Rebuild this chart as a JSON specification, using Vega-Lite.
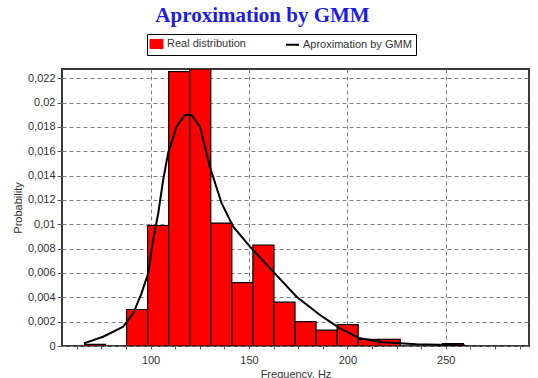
{
  "$schema": "https://vega.github.io/schema/vega-lite/v6.json",
  "width": 467,
  "height": 277,
  "autosize": "none",
  "padding": {"left": 62, "top": 69, "right": 9, "bottom": 32},
  "background": "white",
  "title": {
    "text": "Aproximation by GMM",
    "font": "Liberation Serif",
    "fontSize": 21,
    "fontWeight": "bold",
    "color": "#1c1ce6",
    "anchor": "middle",
    "dx": -33,
    "offset": -13,
    "baseline": "bottom"
  },
  "datasets": {
    "hist": [
      {"x0": 66.4, "x1": 77.1, "p": 0.00014, "series": "Real distribution"},
      {"x0": 87.8, "x1": 98.5, "p": 0.0030, "series": "Real distribution"},
      {"x0": 98.5, "x1": 109.2, "p": 0.0099, "series": "Real distribution"},
      {"x0": 109.2, "x1": 119.9, "p": 0.02254, "series": "Real distribution"},
      {"x0": 119.9, "x1": 130.6, "p": 0.02276, "series": "Real distribution"},
      {"x0": 130.6, "x1": 141.3, "p": 0.0101, "series": "Real distribution"},
      {"x0": 141.3, "x1": 152.0, "p": 0.0052, "series": "Real distribution"},
      {"x0": 152.0, "x1": 162.7, "p": 0.0083, "series": "Real distribution"},
      {"x0": 162.7, "x1": 173.4, "p": 0.0036, "series": "Real distribution"},
      {"x0": 173.4, "x1": 184.1, "p": 0.0020, "series": "Real distribution"},
      {"x0": 184.1, "x1": 194.8, "p": 0.0013, "series": "Real distribution"},
      {"x0": 194.8, "x1": 205.5, "p": 0.00175, "series": "Real distribution"},
      {"x0": 205.5, "x1": 216.2, "p": 0.00055, "series": "Real distribution"},
      {"x0": 216.2, "x1": 226.9, "p": 0.00055, "series": "Real distribution"},
      {"x0": 248.3, "x1": 259.0, "p": 0.0002, "series": "Real distribution"}
    ],
    "gmm": [
      {"x0": 66.1, "p": 0.00022, "series": "Aproximation by GMM"},
      {"x0": 75.9, "p": 0.00076, "series": "Aproximation by GMM"},
      {"x0": 86.1, "p": 0.00159, "series": "Aproximation by GMM"},
      {"x0": 91.2, "p": 0.00269, "series": "Aproximation by GMM"},
      {"x0": 95.4, "p": 0.00433, "series": "Aproximation by GMM"},
      {"x0": 98.8, "p": 0.00597, "series": "Aproximation by GMM"},
      {"x0": 101.3, "p": 0.00871, "series": "Aproximation by GMM"},
      {"x0": 103.9, "p": 0.01091, "series": "Aproximation by GMM"},
      {"x0": 106.4, "p": 0.01364, "series": "Aproximation by GMM"},
      {"x0": 108.9, "p": 0.01584, "series": "Aproximation by GMM"},
      {"x0": 113.2, "p": 0.01802, "series": "Aproximation by GMM"},
      {"x0": 117.4, "p": 0.01898, "series": "Aproximation by GMM"},
      {"x0": 120.8, "p": 0.01898, "series": "Aproximation by GMM"},
      {"x0": 125.1, "p": 0.01802, "series": "Aproximation by GMM"},
      {"x0": 130.1, "p": 0.01474, "series": "Aproximation by GMM"},
      {"x0": 136.1, "p": 0.01173, "series": "Aproximation by GMM"},
      {"x0": 142.0, "p": 0.0098, "series": "Aproximation by GMM"},
      {"x0": 150.5, "p": 0.00816, "series": "Aproximation by GMM"},
      {"x0": 162.3, "p": 0.00611, "series": "Aproximation by GMM"},
      {"x0": 174.2, "p": 0.00405, "series": "Aproximation by GMM"},
      {"x0": 186.1, "p": 0.00255, "series": "Aproximation by GMM"},
      {"x0": 196.2, "p": 0.00145, "series": "Aproximation by GMM"},
      {"x0": 206.4, "p": 0.00063, "series": "Aproximation by GMM"},
      {"x0": 218.1, "p": 0.0003, "series": "Aproximation by GMM"},
      {"x0": 235.2, "p": 0.00014, "series": "Aproximation by GMM"},
      {"x0": 252.2, "p": 0.00008, "series": "Aproximation by GMM"},
      {"x0": 259.8, "p": 0.00004, "series": "Aproximation by GMM"}
    ]
  },
  "encoding": {
    "x": {
      "field": "x0",
      "type": "quantitative",
      "scale": {"domain": [55, 292.3], "nice": false, "zero": false},
      "axis": {
        "title": "Frequency, Hz",
        "values": [62.5, 75, 87.5, 100, 112.5, 125, 137.5, 150, 162.5, 175, 187.5, 200, 212.5, 225, 237.5, 250, 262.5, 275, 287.5],
        "labelExpr": "datum.value % 50 === 0 ? format(datum.value, 'd') : ''",
        "labelOverlap": false,
        "gridColor": {"condition": {"test": "datum.value % 50 === 0", "value": "#808080"}, "value": "transparent"},
        "tickSize": 3,
        "labelPadding": 5,
        "titlePadding": 3
      }
    },
    "y": {
      "field": "p",
      "type": "quantitative",
      "scale": {"domain": [0, 0.02276], "nice": false},
      "axis": {
        "title": "Probability",
        "values": [0, 0.002, 0.004, 0.006, 0.008, 0.01, 0.012, 0.014, 0.016, 0.018, 0.02, 0.022],
        "labelExpr": "replace(format(datum.value, '.3~f'), '.', ',')",
        "labelOverlap": false,
        "tickSize": 5,
        "labelPadding": 2,
        "titlePadding": 4
      }
    },
    "color": {
      "field": "series",
      "type": "nominal",
      "scale": {"domain": ["Real distribution", "Aproximation by GMM"], "range": ["#ff0000", "#000000"]},
      "legend": {
        "title": null,
        "orient": "none",
        "legendX": 85,
        "legendY": -35,
        "direction": "horizontal",
        "gridAlign": "all",
        "columnPadding": 6,
        "padding": 4,
        "strokeColor": "#000000",
        "fillColor": "#ffffff",
        "labelFont": "Liberation Sans",
        "labelFontSize": 11,
        "labelColor": "#333333",
        "labelOffset": 5,
        "symbolSize": 169,
        "symbolStrokeColor": "#000000",
        "symbolStrokeWidth": 1,
        "encode": {
          "symbols": {
            "update": {
              "shape": {"signal": "datum.value === 'Aproximation by GMM' ? 'M-1,0H1' : 'M-1,-0.7H1V0.7H-1Z'"},
              "stroke": {"value": "#000000"},
              "strokeWidth": {"signal": "datum.value === 'Aproximation by GMM' ? 2 : 1"}
            }
          }
        }
      }
    }
  },
  "layer": [
    {
      "data": {"name": "hist"},
      "mark": {"type": "bar", "stroke": "#000000", "strokeWidth": 1.2, "clip": true},
      "encoding": {
        "x2": {"field": "x1"},
        "y2": {"datum": 0}
      }
    },
    {
      "data": {"name": "gmm"},
      "mark": {"type": "line", "strokeWidth": 2, "clip": true},
      "encoding": {}
    }
  ],
  "config": {
    "view": {"stroke": "#3a3a3a", "strokeWidth": 2},
    "axis": {
      "domain": false,
      "grid": true,
      "gridColor": "#808080",
      "gridDash": [4, 3],
      "gridWidth": 1,
      "tickColor": "#555555",
      "labelFont": "Liberation Sans",
      "labelFontSize": 11,
      "labelColor": "#333333",
      "titleFont": "Liberation Sans",
      "titleFontSize": 11,
      "titleFontWeight": "normal",
      "titleColor": "#333333"
    }
  }
}
